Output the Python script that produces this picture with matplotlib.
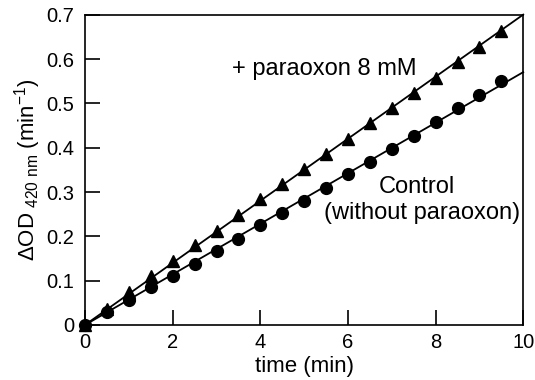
import numpy as np
import matplotlib.pyplot as plt

plt.rcParams['font.family'] = ['Liberation Sans', 'DejaVu Sans']
plt.rcParams['mathtext.fontset'] = 'custom'
plt.rcParams['mathtext.rm'] = 'Liberation Sans'
plt.rcParams['mathtext.default'] = 'regular'

# data
time_min = [0, 0.5, 1, 1.5, 2, 2.5, 3, 3.5, 4, 4.5, 5, 5.5, 6, 6.5, 7, 7.5, 8, 8.5, 9, 9.5]
paraoxon = [0, 0.037, 0.075, 0.110, 0.145, 0.180, 0.213, 0.248, 0.285, 0.318,
            0.352, 0.386, 0.420, 0.455, 0.489, 0.524, 0.558, 0.593, 0.628, 0.664]
control = [0, 0.028, 0.057, 0.085, 0.110, 0.138, 0.167, 0.195, 0.225, 0.252,
           0.280, 0.310, 0.340, 0.368, 0.397, 0.427, 0.458, 0.490, 0.520, 0.550]

t = np.array(time_min)
fit_x = np.array([0, 10])

fig = plt.figure(figsize=(5.35, 3.8), dpi=100)
ax = fig.add_axes([0.159, 0.145, 0.819, 0.816])

for y, mk, ms in [(paraoxon, '^', 8.5), (control, 'o', 8.5)]:
    y = np.array(y)
    slope = np.sum(t * y) / np.sum(t * t)  # fit through origin
    ax.plot(fit_x, slope * fit_x, color='black', lw=1.3, clip_on=False, zorder=2)
    ax.plot(t, y, linestyle='none', marker=mk, ms=ms, color='black', clip_on=False, zorder=3)

ax.set_xlim(0, 10)
ax.set_ylim(0, 0.7)
ax.set_xticks([0, 2, 4, 6, 8, 10])
ax.set_xticklabels(['0', '2', '4', '6', '8', '10'])
ax.set_yticks([0, 0.1, 0.2, 0.3, 0.4, 0.5, 0.6, 0.7])
ax.set_yticklabels(['0', '0.1', '0.2', '0.3', '0.4', '0.5', '0.6', '0.7'])
ax.tick_params(direction='in', length=10.5, width=1.2, labelsize=14.5, colors='black')
ax.tick_params(axis='y', pad=8)
ax.tick_params(axis='x', pad=6)
for s in ax.spines.values():
    s.set_linewidth(1.2)

ax.set_xlabel('time (min)', fontsize=16, labelpad=3)
ax.set_ylabel(r'ΔOD$_{\ 420\ nm}$ (min$^{-1}$)', fontsize=16, labelpad=2)

ax.text(3.36, 0.577, '+ paraoxon 8 mM', fontsize=17, ha='left', va='center')
ax.text(7.58, 0.311, 'Control', fontsize=17, ha='center', va='center')
ax.text(7.7, 0.252, '(without paraoxon)', fontsize=17, ha='center', va='center')

fig.savefig('out.png', dpi=100)
